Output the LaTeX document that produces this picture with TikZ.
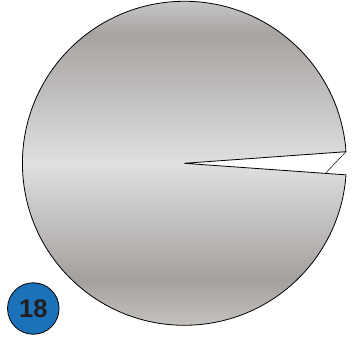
\documentclass[tikz,border=0pt]{standalone}
\usepackage{fontspec}
\setmainfont{Liberation Sans}
\definecolor{gA}{HTML}{C9C6C2}
\definecolor{gB}{HTML}{A4A09E}
\definecolor{gC}{HTML}{DFE0E0}
\definecolor{gD}{HTML}{A7A3A1}
\definecolor{gE}{HTML}{CCCCCC}
\definecolor{badgeblue}{HTML}{1B72B8}
\definecolor{badgetext}{HTML}{231F20}
\pgfdeclareverticalshading{diskshade}{100bp}{color(0bp)=(gA); color(25bp)=(gA); color(32.7bp)=(gB); color(50bp)=(gC); color(69.1bp)=(gD); color(75bp)=(gE); color(100bp)=(gE)}
\tikzset{
  disk/.style={draw=black, line width=0.8pt, shading=diskshade, line join=miter},
  badge/.style={circle, draw=black, line width=0.8pt, fill=badgeblue, minimum size=51.5pt, inner sep=0pt, font=\bfseries\fontsize{25.5}{25.5}\selectfont, text=badgetext},
  thinline/.style={draw=black, line width=0.5pt}
}
\begin{document}
\begin{tikzpicture}[x=1pt,y=-1pt]
\useasboundingbox (0,0) rectangle (352,339);
\coordinate (apex) at (184.3,163.3);
\coordinate (up) at (346,151.7);
\coordinate (inner) at (326,172.7);
\path[disk] (apex) -- (up) arc[start angle=-4.1, end angle=-355.9, radius=162] -- cycle;
\draw[thinline] (up) -- (inner);
\node[badge] (b) at (33.3,308.5) {18};
\end{tikzpicture}
\end{document}
